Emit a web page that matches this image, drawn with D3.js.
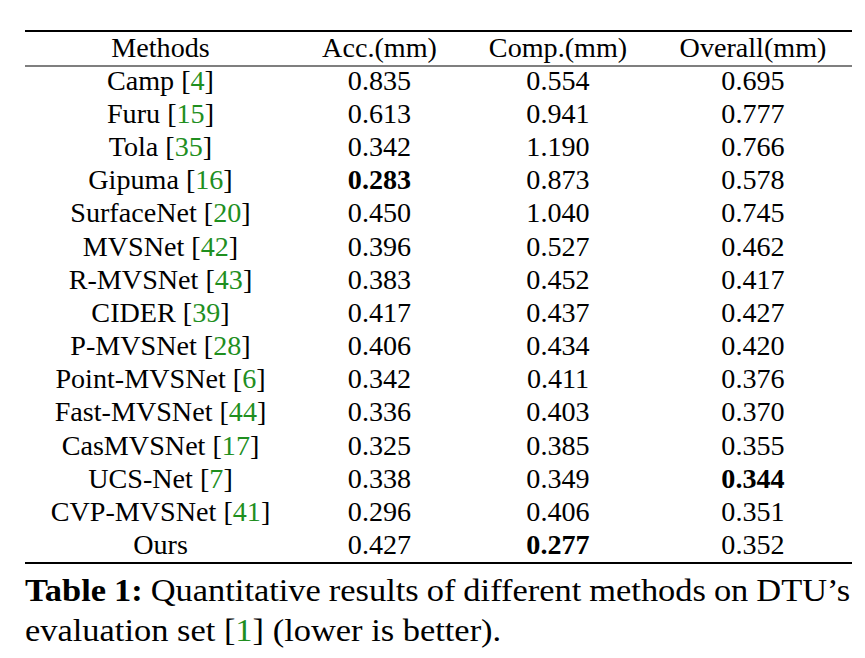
<!DOCTYPE html>
<html><head><meta charset="utf-8">
<script src="https://cdn.jsdelivr.net/npm/d3@7"></script>
</head>
<body style="margin:0;background:#fff">
<svg id="c" width="865" height="658" style="display:block"></svg>
<script>
const headers = ["Methods", "Acc.(mm)", "Comp.(mm)", "Overall(mm)"];
const methods = ["Camp", "Furu", "Tola", "Gipuma", "SurfaceNet", "MVSNet", "R-MVSNet", "CIDER", "P-MVSNet", "Point-MVSNet", "Fast-MVSNet", "CasMVSNet", "UCS-Net", "CVP-MVSNet", "Ours"];
const refs = ["4", "15", "35", "16", "20", "42", "43", "39", "28", "6", "44", "17", "7", "41", null];
const acc = [0.835, 0.613, 0.342, 0.283, 0.450, 0.396, 0.383, 0.417, 0.406, 0.342, 0.336, 0.325, 0.338, 0.296, 0.427];
const comp = [0.554, 0.941, 1.190, 0.873, 1.040, 0.527, 0.452, 0.437, 0.434, 0.411, 0.403, 0.385, 0.349, 0.406, 0.277];
const overall = [0.695, 0.777, 0.766, 0.578, 0.745, 0.462, 0.417, 0.427, 0.420, 0.376, 0.370, 0.355, 0.344, 0.351, 0.352];
const captionLabel = "Table 1:";
const captionLine1 = "Quantitative results of different methods on DTU’s";
const captionLine2a = "evaluation set [";
const captionRef = "1";
const captionLine2b = "] (lower is better).";

const FONT = "Liberation Serif";
const svg = d3.select("#c");
const green = "#1f8f1f";
const fs = 26.3;
const sx = 1.07; // horizontal stretch seen in the reference

const x = d3.scaleOrdinal().domain(headers).range([160.5, 379.5, 558, 753]);
const rowKeys = ["header"].concat(methods);
const y = d3.scalePoint().domain(rowKeys).range([56.5, 554]);
const tf = (px, py) => `translate(${px},${py}) scale(${sx},1)`;

const left = 25, right = 852;
svg.append("line").attr("x1", left).attr("x2", right).attr("y1", 31).attr("y2", 31).attr("stroke", "#000").attr("stroke-width", 1.8);
svg.append("line").attr("x1", left).attr("x2", right).attr("y1", 66).attr("y2", 66).attr("stroke", "#000").attr("stroke-width", 1.2);
svg.append("line").attr("x1", left).attr("x2", right).attr("y1", 563).attr("y2", 563).attr("stroke", "#000").attr("stroke-width", 1.8);

svg.selectAll("text.h").data(headers).enter().append("text").attr("class", "h")
  .attr("font-family", FONT)
  .attr("transform", d => tf(x(d), y("header"))).attr("text-anchor", "middle").attr("font-size", fs).text(d => d);

methods.forEach((m, i) => {
  const t = svg.append("text").attr("font-family", FONT).attr("transform", tf(x(headers[0]), y(m))).attr("text-anchor", "middle").attr("font-size", fs);
  if (refs[i]) {
    t.append("tspan").text(m + " [");
    t.append("tspan").attr("fill", green).text(refs[i]);
    t.append("tspan").text("]");
  } else {
    t.text(m);
  }
});

const cols = [acc, comp, overall];
cols.forEach((vals, ci) => {
  const mn = d3.min(vals);
  svg.selectAll(null).data(vals).enter().append("text")
    .attr("font-family", FONT)
    .attr("transform", (d, i) => tf(x(headers[ci + 1]), y(methods[i])))
    .attr("text-anchor", "middle").attr("font-size", fs)
    .attr("font-weight", d => d === mn ? "bold" : "normal")
    .text(d => d3.format(".3f")(d));
});

const cfs = 32.2;
const c1 = svg.append("text").attr("font-family", FONT).attr("transform", tf(left, 601)).attr("font-size", cfs).attr("word-spacing", -0.6);
c1.append("tspan").attr("font-weight", "bold").text(captionLabel);
c1.append("tspan").text(" " + captionLine1);

const c2 = svg.append("text").attr("font-family", FONT).attr("transform", tf(left, 641)).attr("font-size", cfs);
c2.append("tspan").text(captionLine2a);
c2.append("tspan").attr("fill", green).text(captionRef);
c2.append("tspan").text(captionLine2b);
</script>
</body></html>
